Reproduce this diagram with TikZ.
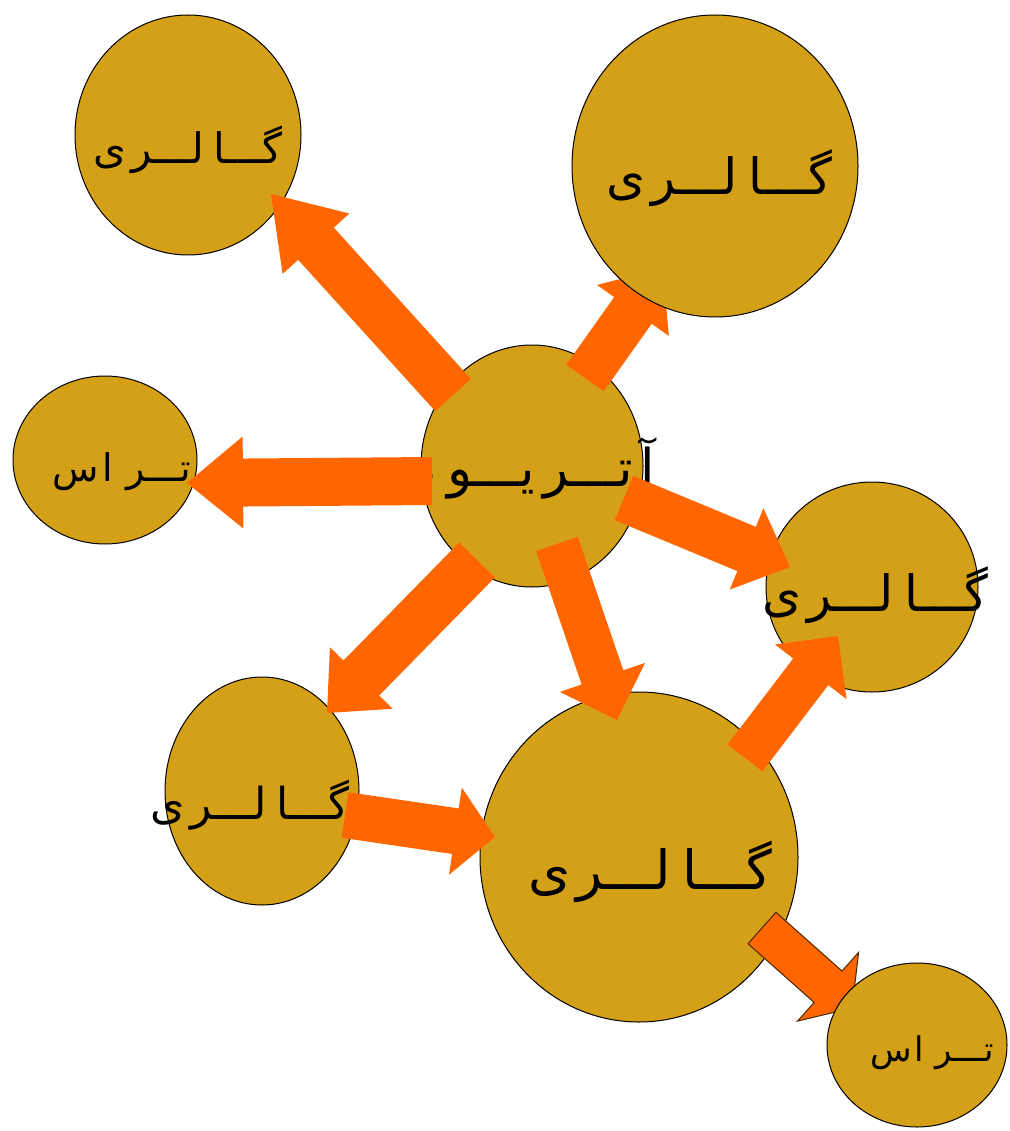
\documentclass[tikz,border=0pt]{standalone}
\usepackage{fontspec}
\newfontfamily\arabicfont[Script=Arabic]{DejaVu Sans}
\TeXXeTstate=1
\usetikzlibrary{calc,shapes.geometric}
\definecolor{gold}{HTML}{D4A017}
\definecolor{orng}{HTML}{FF6600}
\tikzset{
  room/.style={ellipse, draw=black, line width=1pt, fill=gold, inner sep=0pt},
  lbl/.style={font=\arabicfont, text=black, inner sep=0pt},
  arr/.style={fill=orng, draw=none},
  arrline/.style={fill=orng, draw=black!70!orange, line width=1pt},
}
% #1 style, #2 tail, #3 tip, #4 shaft half width, #5 head half width, #6 head length
\newcommand\blockarr[6][arr]{%
  \path[#1] let \p1=(#2), \p2=(#3),
    \n1={atan2(\y2-\y1,\x2-\x1)},
    \n2={veclen(\x2-\x1,\y2-\y1)-#6} in
    ($(\p1)+(\n1+90:#4)$) -- ($(\p1)+(\n1:\n2)+(\n1+90:#4)$)
    -- ($(\p1)+(\n1:\n2)+(\n1+90:#5)$) -- (\p2)
    -- ($(\p1)+(\n1:\n2)+(\n1-90:#5)$) -- ($(\p1)+(\n1:\n2)+(\n1-90:#4)$)
    -- ($(\p1)+(\n1-90:#4)$) -- cycle;}
\newcommand\fs[1]{\fontsize{#1}{#1}\selectfont}
\newcommand\gal{\beginR گـــا\hspace{.22em}لـــر\hspace{.12em}ی\endR}
\newcommand\ter{\beginR تـــر\hspace{.35em}ا\hspace{.08em}س\endR}
\newcommand\atr{\beginR آ\hspace{.15em}تـــر\hspace{.18em}یـــو\hspace{.2em}م\endR}
\begin{document}
\begin{tikzpicture}[x=1pt,y=-1pt]
\useasboundingbox (0,0) rectangle (1009,1131);
\fill[white] (0,0) rectangle (1009,1131);
% rooms (under the arrows)
\node[room, minimum width=226pt, minimum height=240pt] (g1) at (188,135) {};
\node[lbl] (g1t) at (188,150) {\fs{42}\gal};
\node[room, minimum width=184pt, minimum height=168pt] (t1) at (105,460) {};
\node[lbl] (t1t) at (122,472) {\fs{38}\ter};
\node[room, minimum width=222pt, minimum height=242pt] (c) at (532,466) {};
\node[lbl] (ct) at (530,468) {\fs{52}\atr};
\node[room, minimum width=212pt, minimum height=210pt] (g3) at (872,587) {};
\node[lbl] (g3t) at (875,595) {\fs{50}\gal};
\node[room, minimum width=194pt, minimum height=228pt] (g4) at (262,791) {};
\node[lbl] (g4t) at (250,805) {\fs{44}\gal};
\node[room, minimum width=318pt, minimum height=330pt] (g5) at (639,857) {};
\node[lbl] (g5t) at (650,872) {\fs{54}\gal};
% arrow end points
\coordinate (aA) at (453,395); \coordinate (bA) at (271,194);
\coordinate (aB) at (585,378); \coordinate (bB) at (663,268);
\coordinate (aC) at (432,481); \coordinate (bC) at (187,483);
\coordinate (aD) at (624,498); \coordinate (bD) at (790,567);
\coordinate (aE) at (477,560); \coordinate (bE) at (327,713);
\coordinate (aF) at (557,544); \coordinate (bF) at (617,720);
\coordinate (aG) at (345,815); \coordinate (bG) at (495,837);
\coordinate (aH) at (745,758); \coordinate (bH) at (838,636);
\coordinate (aI) at (762,928); \coordinate (bI) at (852,1008);
\blockarr{aA}{bA}{24pt}{45pt}{67}
\blockarr{aB}{bB}{23pt}{44pt}{52}
\blockarr{aC}{bC}{24pt}{46pt}{56}
\blockarr{aD}{bD}{24pt}{44pt}{47}
\blockarr{aE}{bE}{25pt}{44pt}{49}
\blockarr{aF}{bF}{22pt}{45pt}{45}
\blockarr{aG}{bG}{23pt}{44pt}{40}
\blockarr{aH}{bH}{22pt}{45pt}{45}
\blockarr[arrline]{aI}{bI}{21pt}{46pt}{32}
% rooms that cover arrow tips
\node[room, minimum width=286pt, minimum height=302pt] (g2) at (715,166) {};
\node[lbl] (g2t) at (719,178) {\fs{50}\gal};
\node[room, minimum width=180pt, minimum height=164pt] (t2) at (917,1045) {};
\node[lbl] (t2t) at (932,1053) {\fs{34}\ter};
\end{tikzpicture}
\end{document}
